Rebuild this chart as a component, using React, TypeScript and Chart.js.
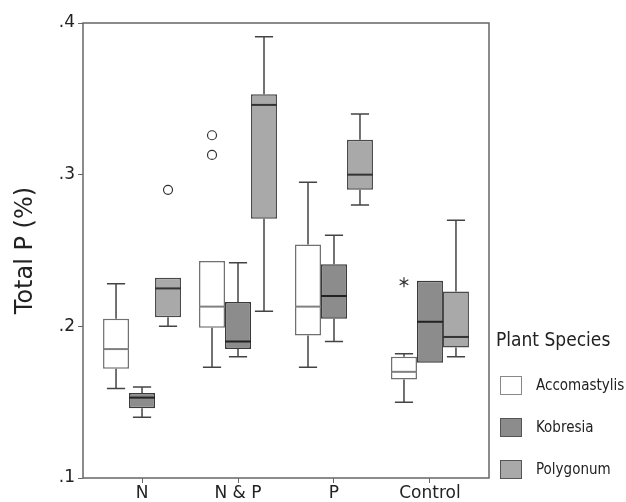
import { useEffect, useRef } from 'react';
import { Chart, registerables } from 'chart.js';

Chart.register(...registerables);

const categories = ['N', 'N & P', 'P', 'Control'];
const species = ['Accomastylis', 'Kobresia', 'Polygonum'];
const yTicks = [0.1, 0.2, 0.3, 0.4];

const accoMin = [0.159, 0.173, 0.173, 0.150];
const accoQ1 = [0.172, 0.199, 0.194, 0.165];
const accoMed = [0.185, 0.213, 0.213, 0.170];
const accoQ3 = [0.205, 0.243, 0.254, 0.180];
const accoMax = [0.228, 0.243, 0.295, 0.182];
const accoOutliers = [[], [0.326, 0.313], [], []];
const accoExtremes = [[], [], [], [0.229]];

const kobrMin = [0.140, 0.180, 0.190, 0.176];
const kobrQ1 = [0.146, 0.185, 0.205, 0.176];
const kobrMed = [0.153, 0.190, 0.220, 0.203];
const kobrQ3 = [0.156, 0.216, 0.241, 0.230];
const kobrMax = [0.160, 0.242, 0.260, 0.230];
const kobrOutliers = [[], [], [], []];
const kobrExtremes = [[], [], [], []];

const polyMin = [0.200, 0.210, 0.280, 0.180];
const polyQ1 = [0.206, 0.271, 0.290, 0.186];
const polyMed = [0.225, 0.346, 0.300, 0.193];
const polyQ3 = [0.232, 0.353, 0.323, 0.223];
const polyMax = [0.232, 0.391, 0.340, 0.270];
const polyOutliers = [[0.290], [], [], []];
const polyExtremes = [[], [], [], []];

const fills = ['#ffffff', '#8c8c8c', '#a9a9a9'];
const borders = ['#707070', '#3a3a3a', '#4a4a4a'];
const medianColors = ['#808080', '#222222', '#333333'];

const stats = [
  { min: accoMin, q1: accoQ1, med: accoMed, q3: accoQ3, max: accoMax, out: accoOutliers, ext: accoExtremes },
  { min: kobrMin, q1: kobrQ1, med: kobrMed, q3: kobrQ3, max: kobrMax, out: kobrOutliers, ext: kobrExtremes },
  { min: polyMin, q1: polyQ1, med: polyMed, q3: polyQ3, max: polyMax, out: polyOutliers, ext: polyExtremes },
];

const FONT = "'DejaVu Sans', sans-serif";
const LEGEND_FONT = "'DejaVu Sans Condensed', 'DejaVu Sans', sans-serif";

const framePlugin = {
  id: 'frame',
  afterDraw(chart: any) {
    const { ctx, chartArea: a } = chart;
    ctx.save();
    ctx.strokeStyle = '#666666';
    ctx.lineWidth = 1.5;
    ctx.strokeRect(a.left, a.top, a.right - a.left, a.bottom - a.top);
    ctx.restore();
  },
};

const whiskerPlugin = {
  id: 'whiskers',
  afterDatasetsDraw(chart: any) {
    const { ctx } = chart;
    const y = chart.scales.y;
    stats.forEach((s, di) => {
      const meta = chart.getDatasetMeta(di);
      meta.data.forEach((el: any, i: number) => {
        const x = el.x;
        const w = el.width;
        const cap = w * 0.7;
        ctx.save();
        ctx.strokeStyle = '#444444';
        ctx.lineWidth = 1.5;
        const yq1 = y.getPixelForValue(s.q1[i]);
        const yq3 = y.getPixelForValue(s.q3[i]);
        const ymin = y.getPixelForValue(s.min[i]);
        const ymax = y.getPixelForValue(s.max[i]);
        if (s.max[i] > s.q3[i]) {
          ctx.beginPath();
          ctx.moveTo(x, yq3);
          ctx.lineTo(x, ymax);
          ctx.moveTo(x - cap / 2, ymax);
          ctx.lineTo(x + cap / 2, ymax);
          ctx.stroke();
        }
        if (s.min[i] < s.q1[i]) {
          ctx.beginPath();
          ctx.moveTo(x, yq1);
          ctx.lineTo(x, ymin);
          ctx.moveTo(x - cap / 2, ymin);
          ctx.lineTo(x + cap / 2, ymin);
          ctx.stroke();
        }
        const ym = y.getPixelForValue(s.med[i]);
        ctx.strokeStyle = medianColors[di];
        ctx.lineWidth = 2;
        ctx.beginPath();
        ctx.moveTo(x - w / 2, ym);
        ctx.lineTo(x + w / 2, ym);
        ctx.stroke();
        ctx.strokeStyle = '#333333';
        ctx.lineWidth = 1.2;
        s.out[i].forEach((v: number) => {
          const py = y.getPixelForValue(v);
          ctx.beginPath();
          ctx.arc(x, py, 4.5, 0, Math.PI * 2);
          ctx.fillStyle = '#ffffff';
          ctx.fill();
          ctx.stroke();
        });
        s.ext[i].forEach((v: number) => {
          const py = y.getPixelForValue(v);
          const r = 5;
          ctx.beginPath();
          for (let k = 0; k < 3; k++) {
            const ang = Math.PI / 2 + (k * Math.PI) / 3;
            ctx.moveTo(x + r * Math.cos(ang), py - r * Math.sin(ang));
            ctx.lineTo(x - r * Math.cos(ang), py + r * Math.sin(ang));
          }
          ctx.stroke();
        });
        ctx.restore();
      });
    });
  },
};

const legendPlugin = {
  id: 'customLegend',
  afterDraw(chart: any) {
    const { ctx, chartArea: a } = chart;
    const x0 = a.right + 7;
    ctx.save();
    ctx.fillStyle = '#222222';
    ctx.font = `19px ${LEGEND_FONT}`;
    ctx.textBaseline = 'middle';
    ctx.textAlign = 'left';
    ctx.fillText('Plant Species', x0, 341);
    chart.data.datasets.forEach((ds: any, i: number) => {
      const top = 376 + i * 42;
      ctx.fillStyle = ds.backgroundColor;
      ctx.fillRect(x0 + 4, top, 21, 18);
      ctx.strokeStyle = i === 0 ? '#888888' : '#555555';
      ctx.lineWidth = 1;
      ctx.strokeRect(x0 + 4.5, top + 0.5, 21, 18);
      ctx.fillStyle = '#222222';
      ctx.font = `15px ${LEGEND_FONT}`;
      ctx.fillText(ds.label, x0 + 40, top + 10);
    });
    ctx.restore();
  },
};

export default function App() {
  const ref = useRef<HTMLCanvasElement>(null);
  useEffect(() => {
    document.body.style.margin = '0';
    const canvas = ref.current!;
    const chart = new Chart(canvas, {
      type: 'bar',
      data: {
        datasets: species.map((name, di) => ({
          label: name,
          data: categories.map((_, i) => ({ x: i, y: [stats[di].q1[i], stats[di].q3[i]] })),
          backgroundColor: fills[di],
          borderColor: borders[di],
          borderWidth: 1.5,
          borderSkipped: false,
          categoryPercentage: 0.8125,
          barPercentage: 1,
        })),
      },
      options: {
        animation: false,
        responsive: false,
        maintainAspectRatio: false,
        layout: { padding: { top: 23, right: 137, left: 0, bottom: 0 } },
        plugins: {
          legend: { display: false },
          tooltip: { enabled: false },
        },
        scales: {
          x: {
            type: 'linear',
            min: -0.615,
            max: 3.615,
            offset: false,
            afterBuildTicks: (scale: any) => {
              scale.ticks = categories.map((_, i) => ({ value: i }));
            },
            afterFit: (scale: any) => {
              scale.height = 24;
            },
            ticks: {
              autoSkip: false,
              maxRotation: 0,
              padding: 0,
              color: '#222222',
              font: { family: FONT, size: 17 },
              callback: (v: any) => categories[Math.round(Number(v))] ?? '',
            },
            grid: { display: true, drawOnChartArea: false, drawTicks: true, tickLength: 5, color: '#666666', offset: false },
            border: { display: false },
          },
          y: {
            type: 'linear',
            min: 0.1,
            max: 0.4,
            afterBuildTicks: (scale: any) => {
              scale.ticks = yTicks.map((v) => ({ value: v }));
            },
            afterFit: (scale: any) => {
              scale.width = 83;
            },
            ticks: {
              padding: 3,
              color: '#222222',
              font: { family: FONT, size: 17 },
              callback: (v: any) => '.' + Math.round(Number(v) * 10),
            },
            grid: { display: true, drawOnChartArea: false, drawTicks: true, tickLength: 5, color: '#666666' },
            border: { display: false },
            title: {
              display: true,
              text: 'Total P (%)',
              color: '#222222',
              font: { family: FONT, size: 24 },
              padding: { top: 11, bottom: 0 },
            },
          },
        },
      },
      plugins: [whiskerPlugin, framePlugin, legendPlugin],
    } as any);
    return () => chart.destroy();
  }, []);
  return <canvas ref={ref} width={626} height={502} style={{ display: 'block', width: 626, height: 502 }} />;
}
